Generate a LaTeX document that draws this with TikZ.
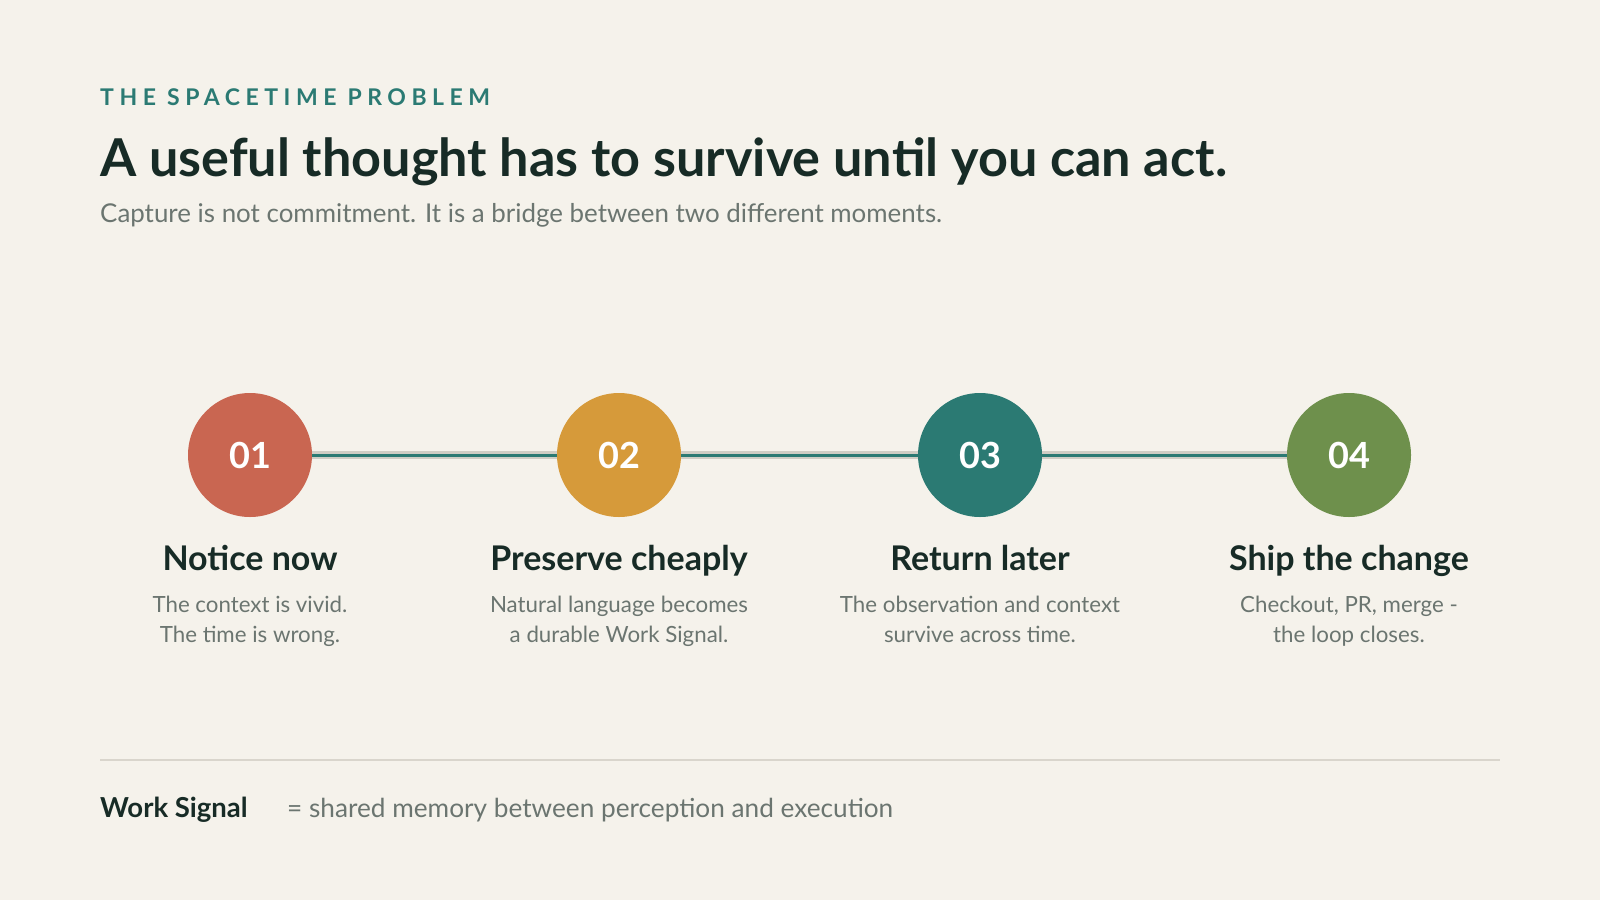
\documentclass[tikz,border=0pt]{standalone}
\usepackage{fontspec}
\setmainfont{Lato}
\newfontfamily\kickerfont[LetterSpace=24]{Lato}
\usetikzlibrary{positioning}
\definecolor{paper}{HTML}{F5F2EB}
\definecolor{ink}{HTML}{172B26}
\definecolor{mute}{HTML}{6B7570}
\definecolor{teal}{HTML}{2B7A73}
\definecolor{brick}{HTML}{C96651}
\definecolor{ochre}{HTML}{D69A3A}
\definecolor{moss}{HTML}{6E904C}
\definecolor{rule}{HTML}{D9D5CC}
\definecolor{band}{HTML}{CFCDC4}
\begin{document}
\begin{tikzpicture}[x=1pt,y=-1pt,
  every node/.style={inner sep=0pt},
  stepdot/.style={circle,minimum size=124pt,text=white,font=\bfseries\fontsize{36}{36}\selectfont},
  steptitle/.style={anchor=base,text=ink,font=\bfseries\fontsize{34}{34}\selectfont},
  stepnote/.style={anchor=base,text=mute,align=center,font=\fontsize{22.3}{30}\selectfont}]
\fill[paper] (0,0) rectangle (1600,900);
\useasboundingbox (0,0) rectangle (1600,900);
\node[anchor=base west,text=teal,font=\kickerfont\bfseries\fontsize{23}{23}\selectfont] (kicker) at (100,105) {THE SPACETIME PROBLEM};
\node[anchor=base west,text=ink,font=\bfseries\fontsize{52.2}{52}\selectfont] (title) at (100,176) {A useful thought has to survive until you can act.};
\node[anchor=base west,text=mute,font=\fontsize{25.9}{26}\selectfont] (sub) at (100,222) {Capture is not commitment. It is a bridge between two different moments.};
\foreach \i/\x/\col/\head/\la/\lb in {1/250/brick/Notice now/The context is vivid./The time is wrong.,
  2/619/ochre/Preserve cheaply/Natural language becomes/a durable Work Signal.,
  3/980/teal/Return later/The observation and context/survive across time.,
  4/1349/moss/Ship the change/{Checkout, PR, merge -}/the loop closes.} {
  \node[stepdot,fill=\col] (n\i) at (\x,455) {0\i};
  \node[steptitle] (h\i) at (\x,570) {\head};
  \node[stepnote] (d\i) at (\x,642) {\la\\\lb};
}
\foreach \a/\b in {1/2,2/3,3/4} {
  \draw[band,line width=8pt] (n\a) -- (n\b);
  \draw[teal,line width=3pt] (n\a) -- (n\b);
}
\draw[rule,line width=2pt] (100,760) -- (1500,760);
\node[anchor=base west,text=ink,font=\bfseries\fontsize{27.5}{27}\selectfont] (term) at (100,817) {Work Signal};
\node[anchor=base west,text=mute,font=\fontsize{26.2}{26}\selectfont] (gloss) at (287,817) {= shared memory between perception and execution};
\end{tikzpicture}
\end{document}
